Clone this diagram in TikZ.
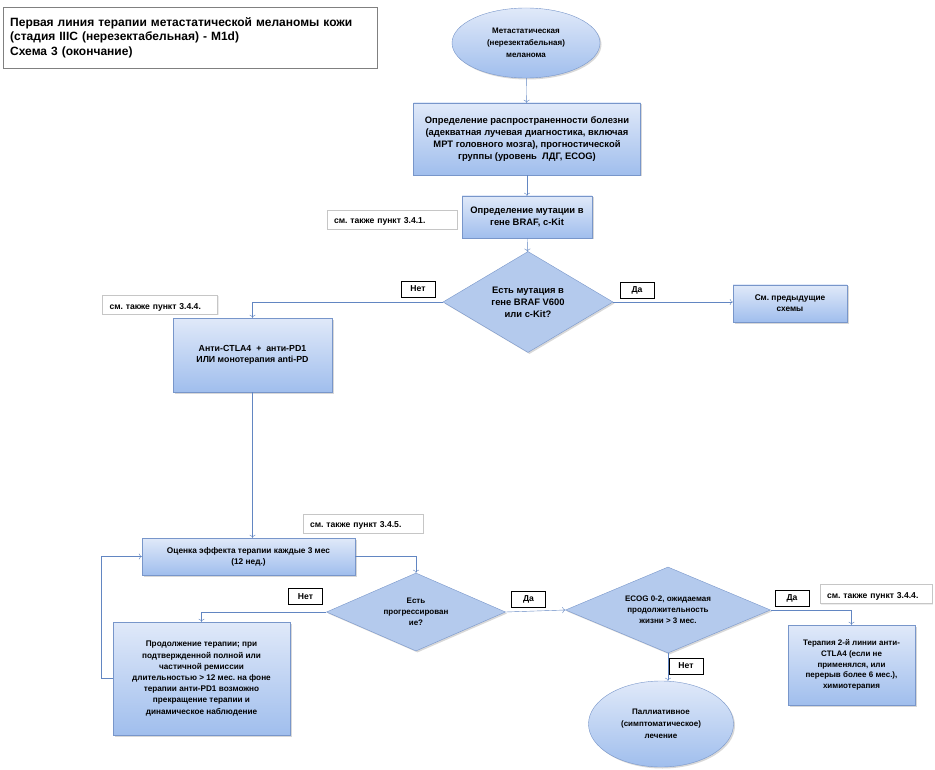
\documentclass[tikz,border=0pt]{standalone}
\usepackage{fontspec}
\setmainfont{Liberation Sans}
\usetikzlibrary{shapes.geometric,arrows.meta,shadows}
\frenchspacing
\definecolor{boxtop}{RGB}{224,233,249}
\definecolor{boxbot}{RGB}{160,190,237}
\definecolor{boxline}{RGB}{120,150,202}
\definecolor{diafill}{RGB}{180,202,237}
\definecolor{conline}{RGB}{98,134,194}

\begin{document}
\begin{tikzpicture}[x=1pt, y=-1pt,
  txt/.style={font=\fontsize{8}{11}\selectfont\bfseries, align=center, inner sep=0pt},
  bigtxt/.style={font=\fontsize{9.4}{12}\selectfont\bfseries},
  block/.style={txt, rectangle, draw=boxline, top color=boxtop, bottom color=boxbot,
    drop shadow={shadow xshift=1.5pt, shadow yshift=-1.5pt, opacity=0.3}},
  oval/.style={block, ellipse, font=\fontsize{8}{12}\selectfont\bfseries},
  decide/.style={txt, diamond, draw=boxline, fill=diafill,
    drop shadow={shadow xshift=1.5pt, shadow yshift=-1.5pt, opacity=0.3}},
  seealso/.style={font=\fontsize{8.6}{10}\selectfont\bfseries, draw=gray!45, fill=white,
    inner ysep=0pt, inner xsep=7pt, minimum height=19pt, text width=#1, align=left,
    text height=9pt, text depth=0.5pt,
    drop shadow={shadow xshift=1pt, shadow yshift=-1pt, opacity=0.15}},
  answer/.style={font=\fontsize{8.6}{10}\selectfont\bfseries, draw=black, fill=white,
    inner sep=0pt, minimum width=34pt, minimum height=16pt},
  link/.style={draw=conline, -{To[length=3pt,width=6pt]}}
]
\useasboundingbox[fill=white] (0, 0) rectangle (935, 770);

\node[anchor=north west, draw=gray, minimum height=61pt, text width=360pt, inner xsep=7pt,
  align=left, font=\fontsize{12}{14.5}\selectfont\bfseries] (title) at (3, 7)
  {Первая линия терапии метастатической меланомы кожи\\(стадия IIIC (нерезектабельная) - M1d)\\Схема 3 (окончание)};

\node[oval, minimum width=148pt, minimum height=70pt] (start) at (526, 43)
  {Метастатическая\\(нерезектабельная)\\меланома};
\node[block, bigtxt, minimum width=227pt, minimum height=72pt] (spread) at (527, 139)
  {Определение распространенности болезни\\(адекватная лучевая диагностика, включая\\МРТ головного мозга), прогностической\\группы (уровень~~ЛДГ, ECOG)};
\node[block, bigtxt, minimum width=130pt, minimum height=42pt] (mutation) at (527, 217)
  {Определение мутации в\\гене BRAF, c-Kit};
\node[seealso=116pt] (see1) at (392, 219.5) {см. также пункт 3.4.1.};

\node[decide, bigtxt, minimum width=170pt, minimum height=101pt, aspect=1.7] (braf) at (528, 302)
  {Есть мутация в\\гене BRAF V600\\или c-Kit?};
\node[answer] (no1) at (418, 289) {Нет};
\node[answer] (yes1) at (637, 290) {Да};
\node[block, font=\fontsize{8.3}{11}\selectfont\bfseries, minimum width=114pt, minimum height=37pt] (prev) at (790, 303.5)
  {См. предыдущие\\схемы};

\node[seealso=101pt] (see2) at (160, 305) {см. также пункт 3.4.4.};
\node[block, font=\fontsize{8.8}{11.5}\selectfont\bfseries, minimum width=159pt, minimum height=74pt] (immuno) at (252.5, 355)
  {Анти-CTLA4~~+~~анти-PD1\\ИЛИ монотерапия anti-PD};

\node[seealso=106pt] (see3) at (363, 523.5) {см. также пункт 3.4.5.};
\node[block, font=\fontsize{8.3}{11}\selectfont\bfseries, minimum width=213pt, minimum height=37pt] (assess) at (248.5, 556.5)
  {Оценка эффекта терапии каждые 3 мес\\(12 нед.)};

\node[decide, minimum width=179pt, minimum height=78pt, aspect=2.3] (progress) at (416, 612)
  {Есть\\прогрессирован\\ие?};
\node[answer] (no2) at (305.5, 596.5) {Нет};
\node[answer] (yes2) at (528.5, 599.5) {Да};
\node[block, font=\fontsize{8.2}{11.2}\selectfont\bfseries, minimum width=177pt, minimum height=113pt] (cont) at (201.5, 678.5)
  {Продолжение терапии; при\\подтвержденной полной или\\частичной ремиссии\\длительностью > 12 мес. на фоне\\терапии анти-PD1 возможно\\прекращение терапии и\\динамическое наблюдение};
\coordinate (back) at (101, 0);

\node[decide, minimum width=205pt, minimum height=86pt, aspect=2.4] (ecog) at (668, 610)
  {ECOG 0-2, ожидаемая\\продолжительность\\жизни > 3 мес.};
\node[answer] (yes3) at (792, 598) {Да};
\node[seealso=98pt] (see4) at (876, 594) {см. также пункт 3.4.4.};
\node[block, font=\fontsize{8}{10.75}\selectfont\bfseries, minimum width=127pt, minimum height=80pt] (second) at (851.5, 665)
  {Терапия 2-й линии анти-\\CTLA4 (если не\\применялся, или\\перерыв более 6 мес.),\\химиотерапия};
\node[answer] (no3) at (686, 666) {Нет};
\node[oval, minimum width=145pt, minimum height=86pt] (palliative) at (661, 724)
  {Паллиативное\\(симптоматическое)\\лечение};

\draw[link] (start) -- (spread);
\draw[link] (spread) -- (mutation);
\draw[link] (mutation) -- (braf);
\draw[link] (braf.west) -| (immuno.north);
\draw[link] (braf.east) -- (braf.east -| prev.west);
\draw[link] (immuno.south) -- (immuno.south |- assess.north);
\draw[link] (assess.east) -| (progress.north);
\draw[link] (progress.west) -| (cont.north);
\draw[link] (cont.west) -- (cont.west -| back) |- (assess.west);
\draw[link] (progress.east) -- (ecog.west);
\draw[link] (ecog.east) -| (second.north);
\draw[link] (ecog.south) -- (ecog.south |- palliative.north);
\end{tikzpicture}
\end{document}
